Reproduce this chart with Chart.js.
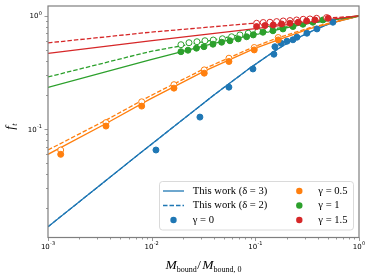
<!DOCTYPE html>
<html>
<head>
<meta charset="utf-8">
<script src="https://cdn.jsdelivr.net/npm/chart.js@4.4.1/dist/chart.umd.min.js"></script>
<style>
  html, body { margin: 0; padding: 0; background: #fff; }
</style>
</head>
<body>
<canvas id="ftcanvas" width="373" height="278"></canvas>
<script>
// model curves
let blueLineX = [0.001, 0.00771, 0.0393, 0.0887, 0.151, 0.216, 0.390, 0.564, 1];
let blueLineY = [0.0137, 0.0610, 0.198, 0.346, 0.485, 0.594, 0.768, 0.880, 1];

let orangeLineX = [0.001, 0.00363, 0.00963, 0.0322, 0.0976, 0.166, 0.336, 1];
let orangeSolidY = [0.0598, 0.112, 0.184, 0.325, 0.514, 0.616, 0.771, 1];
let orangeDashY = [0.0653, 0.120, 0.196, 0.342, 0.535, 0.642, 0.787, 1];

let greenSolidX = [0.001, 0.00963, 0.0390, 0.0948, 0.288, 1];
let greenSolidY = [0.2335, 0.409, 0.569, 0.682, 0.845, 1];
let greenDashX = [0.001, 0.00963, 0.0393, 0.0848, 0.269, 1];
let greenDashY = [0.289, 0.485, 0.613, 0.704, 0.840, 1];

let redLineX = [0.001, 0.00963, 0.0954, 1];
let redSolidY = [0.466, 0.602, 0.768, 1];
let redDashY = [0.578, 0.718, 0.862, 1];

// simulation points
let gamma0X = [0.0110, 0.0292, 0.0556, 0.0948, 0.151, 0.1545, 0.177, 0.202, 0.2305, 0.252, 0.3145, 0.393, 0.560];
let gamma0Y = [0.0653, 0.1276, 0.2348, 0.340, 0.459, 0.535, 0.574, 0.598, 0.616, 0.649, 0.704, 0.768, 0.880];

let gamma05X = [0.001326, 0.003625, 0.00801, 0.01641, 0.03215, 0.05563, 0.09759, 0.1663];
let gamma05FillY = [0.0598, 0.1063, 0.1596, 0.2301, 0.3120, 0.3959, 0.5011, 0.6140];
let gamma05OpenY = [0.0653, 0.1141, 0.1742, 0.2470, 0.3337, 0.4233, 0.5262, 0.6448];

let gamma1FillX = [0.01916, 0.02239, 0.02704, 0.03193, 0.03901, 0.04732, 0.05689, 0.06841, 0.08242, 0.09544, 0.1183, 0.1478, 0.1846, 0.2305, 0.2877, 0.3592, 0.4484];
let gamma1FillY = [0.483, 0.498, 0.519, 0.535, 0.563, 0.586, 0.604, 0.627, 0.655, 0.680, 0.718, 0.740, 0.768, 0.806, 0.845, 0.880, 0.922];
let gamma1OpenX = [0.01916, 0.02290, 0.02734, 0.03266, 0.03926, 0.04817, 0.05905, 0.07103, 0.08541, 0.1059, 0.1323];
let gamma1OpenY = [0.557, 0.580, 0.592, 0.604, 0.613, 0.629, 0.655, 0.680, 0.704, 0.733, 0.763];

let gamma15FillX = [0.1029, 0.1238, 0.1488, 0.1793, 0.2157, 0.2593, 0.3124, 0.3755, 0.5047];
let gamma15FillY = [0.806, 0.823, 0.833, 0.850, 0.862, 0.880, 0.903, 0.922, 0.954];
let gamma15OpenX = [0.1029, 0.1192, 0.1383, 0.1605, 0.1858, 0.2157, 0.2502, 0.2896, 0.3361, 0.3900, 0.4872];
let gamma15OpenY = [0.862, 0.875, 0.880, 0.892, 0.903, 0.911, 0.922, 0.935, 0.941, 0.954, 0.968];

// axis ticks
let xDecades = [0.001, 0.01, 0.1, 1];
let xDecadeExp = ['-3', '-2', '-1', '0'];
let yDecades = [0.01, 0.1, 1];
let yDecadeExp = ['-2', '-1', '0'];

const cBlue = '#1f77b4', cOrange = '#ff7f0e', cGreen = '#2ca02c', cRed = '#d62728';
const axisGray = '#7f7f7f';
const serif = '"Liberation Serif", "DejaVu Serif", serif';
const sans = '"DejaVu Sans", sans-serif';

function zip(xs, ys) {
    return xs.map(function(x, i) { return { x: x, y: ys[i] }; });
}

function lineSet(xs, ys, color, dashed, order) {
    return {
        data: zip(xs, ys),
        showLine: true,
        borderColor: color,
        borderWidth: 1.3,
        borderDash: dashed ? [4.5, 2] : [],
        pointRadius: 0,
        fill: false,
        order: order
    };
}

function dotSet(xs, ys, color, open, order) {
    return {
        data: zip(xs, ys),
        showLine: false,
        pointRadius: 3.0,
        pointBorderWidth: 1,
        pointBorderColor: color,
        pointBackgroundColor: open ? '#ffffff' : color,
        order: order
    };
}

// minor ticks 2..9 in every decade inside the range
function logTicks(min, max) {
    let out = [];
    for (let e = Math.floor(Math.log10(min)); e <= Math.ceil(Math.log10(max)); e++) {
        for (let m = 1; m <= 9; m++) {
            let v = m * Math.pow(10, e);
            if (v >= min * 0.999 && v <= max * 1.001) out.push({ v: v, major: m === 1 });
        }
    }
    return out;
}

function drawPow(ctx, x, y, exp, align) {
    ctx.font = '7px ' + sans;
    let wBase = ctx.measureText('10').width;
    ctx.font = '5px ' + sans;
    let wExp = ctx.measureText(exp).width;
    let total = wBase + wExp + 0.3;
    let left = align === 'center' ? x - total / 2 : x - total;
    ctx.textAlign = 'left';
    ctx.textBaseline = 'alphabetic';
    ctx.font = '7px ' + sans;
    ctx.fillText('10', left, y);
    ctx.font = '5px ' + sans;
    ctx.fillText(exp, left + wBase + 0.3, y - 3.6);
}

const axisDecor = {
    id: 'axisDecor',
    afterDraw(chart) {
        let ctx = chart.ctx, a = chart.chartArea;
        let xs = chart.scales.x, ys = chart.scales.y;
        ctx.save();
        ctx.strokeStyle = axisGray;
        ctx.fillStyle = '#000';
        ctx.lineWidth = 0.8;
        logTicks(xs.min, xs.max).forEach(function(t) {
            let px = Math.round(xs.getPixelForValue(t.v)) + 0.5;
            ctx.beginPath();
            ctx.moveTo(px, a.bottom);
            ctx.lineTo(px, a.bottom + (t.major ? 3.5 : 2));
            ctx.stroke();
        });
        logTicks(ys.min, ys.max).forEach(function(t) {
            let py = Math.round(ys.getPixelForValue(t.v)) + 0.5;
            ctx.beginPath();
            ctx.moveTo(a.left, py);
            ctx.lineTo(a.left - (t.major ? 3.5 : 2), py);
            ctx.stroke();
        });
        ctx.lineWidth = 1.2;
        ctx.strokeRect(a.left, a.top, a.right - a.left, a.bottom - a.top);

        xDecades.forEach(function(v, i) {
            drawPow(ctx, xs.getPixelForValue(v), a.bottom + 11.5, xDecadeExp[i], 'center');
        });
        yDecades.forEach(function(v, i) {
            if (v < ys.min) return;
            drawPow(ctx, a.left - 6, ys.getPixelForValue(v) + 2.5, yDecadeExp[i], 'right');
        });

        // x title: M_bound / M_bound,0
        let parts = [
            { t: 'M', f: 'italic 13.5px ' + serif, dy: 0, pad: 0 },
            { t: 'bound', f: '8px ' + serif, dy: 2.5, pad: 0.5 },
            { t: '/', f: '13px ' + serif, dy: 0, pad: 1.5 },
            { t: 'M', f: 'italic 13.5px ' + serif, dy: 0, pad: 0 },
            { t: 'bound, 0', f: '8px ' + serif, dy: 2.5, pad: 0 }
        ];
        let tw = 0;
        parts.forEach(function(p) { ctx.font = p.f; p.w = ctx.measureText(p.t).width + p.pad; tw += p.w; });
        let cx = (a.left + a.right) / 2 - tw / 2;
        ctx.textAlign = 'left';
        parts.forEach(function(p) {
            ctx.font = p.f;
            ctx.fillText(p.t, cx, 269 + p.dy);
            cx += p.w;
        });

        // y title: f_t
        ctx.save();
        ctx.translate(14, (a.top + a.bottom) / 2 + 4);
        ctx.rotate(-Math.PI / 2);
        ctx.font = 'italic 13px ' + serif;
        let fw = ctx.measureText('f').width;
        ctx.fillText('f', -4, 0);
        ctx.font = 'italic 8px ' + serif;
        ctx.fillText('t', -4 + fw + 0.5, 2.5);
        ctx.restore();

        // legend
        let lx = 159.5, ly = 181.5, lw = 194, lh = 48.5, r = 3;
        ctx.beginPath();
        ctx.moveTo(lx + r, ly);
        ctx.arcTo(lx + lw, ly, lx + lw, ly + lh, r);
        ctx.arcTo(lx + lw, ly + lh, lx, ly + lh, r);
        ctx.arcTo(lx, ly + lh, lx, ly, r);
        ctx.arcTo(lx, ly, lx + lw, ly, r);
        ctx.closePath();
        ctx.fillStyle = 'rgba(255,255,255,0.85)';
        ctx.fill();
        ctx.strokeStyle = '#d0d0d0';
        ctx.lineWidth = 0.8;
        ctx.stroke();

        let rows = [191, 205.5, 220];
        ctx.font = '10px ' + serif;
        let scale = 74.6 / ctx.measureText('This work (δ = 3)').width;
        let fs = (10 * scale).toFixed(2);
        ctx.fillStyle = '#000';
        ctx.textBaseline = 'middle';
        ctx.font = fs + 'px ' + serif;
        ctx.fillText('This work (δ = 3)', 192.7, rows[0]);
        ctx.fillText('This work (δ = 2)', 192.7, rows[1]);
        ctx.fillText('γ = 0', 192.7, rows[2]);
        ctx.fillText('γ = 0.5', 318.3, rows[0]);
        ctx.fillText('γ = 1', 318.3, rows[1]);
        ctx.fillText('γ = 1.5', 318.3, rows[2]);

        ctx.strokeStyle = cBlue;
        ctx.lineWidth = 1.3;
        ctx.beginPath(); ctx.moveTo(163, rows[0]); ctx.lineTo(184, rows[0]); ctx.stroke();
        ctx.setLineDash([4.5, 2]);
        ctx.beginPath(); ctx.moveTo(163, rows[1]); ctx.lineTo(184, rows[1]); ctx.stroke();
        ctx.setLineDash([]);
        [[173.5, rows[2], cBlue], [299.3, rows[0], cOrange], [299.3, rows[1], cGreen], [299.3, rows[2], cRed]].forEach(function(d) {
            ctx.fillStyle = d[2];
            ctx.beginPath();
            ctx.arc(d[0], d[1], 3.2, 0, Math.PI * 2);
            ctx.fill();
        });
        ctx.restore();
    }
};

let ctxFt = document.getElementById('ftcanvas').getContext('2d');
let ftChart = new Chart(ctxFt, {
    type: 'scatter',
    data: {
        datasets: [
            dotSet(gamma15FillX, gamma15FillY, cRed, false, 1),
            dotSet(gamma15OpenX, gamma15OpenY, cRed, true, 2),
            dotSet(gamma1FillX, gamma1FillY, cGreen, false, 3),
            dotSet(gamma1OpenX, gamma1OpenY, cGreen, true, 4),
            dotSet(gamma05X, gamma05FillY, cOrange, false, 5),
            dotSet(gamma05X, gamma05OpenY, cOrange, true, 6),
            dotSet(gamma0X, gamma0Y, cBlue, false, 7),
            lineSet(redLineX, redSolidY, cRed, false, 8),
            lineSet(redLineX, redDashY, cRed, true, 9),
            lineSet(greenSolidX, greenSolidY, cGreen, false, 10),
            lineSet(greenDashX, greenDashY, cGreen, true, 11),
            lineSet(orangeLineX, orangeSolidY, cOrange, false, 12),
            lineSet(orangeLineX, orangeDashY, cOrange, true, 13),
            lineSet(blueLineX, blueLineY, cBlue, false, 14),
            lineSet(blueLineX, blueLineY, cBlue, true, 15)
        ]
    },
    options: {
        responsive: false,
        animation: false,
        events: [],
        layout: { padding: { left: 48, right: 14, top: 6, bottom: 40.5 } },
        plugins: { legend: { display: false }, tooltip: { enabled: false } },
        elements: { line: { tension: 0 } },
        scales: {
            x: {
                type: 'logarithmic', min: 0.001, max: 1,
                ticks: { display: false },
                grid: { display: false, drawTicks: false },
                border: { display: false }
            },
            y: {
                type: 'logarithmic', min: 0.011, max: 1.225,
                ticks: { display: false },
                grid: { display: false, drawTicks: false },
                border: { display: false }
            }
        }
    },
    plugins: [axisDecor]
});
</script>
</body>
</html>
